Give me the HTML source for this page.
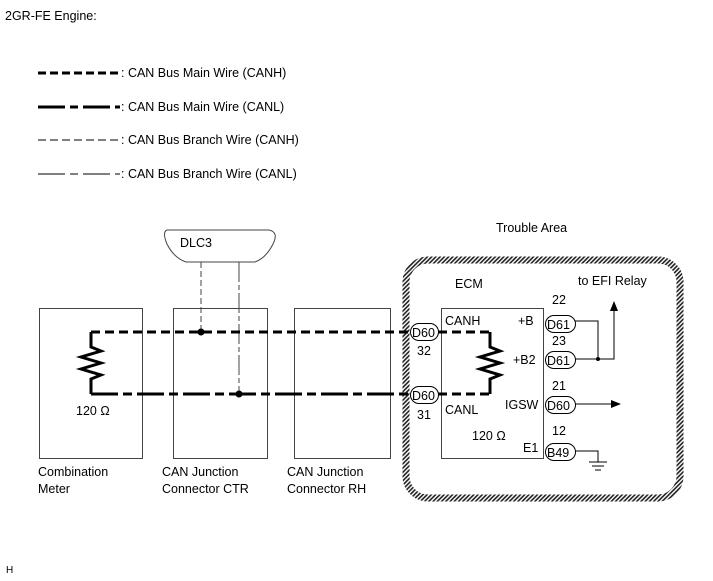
<!DOCTYPE html>
<html><head><style>
body{margin:0;background:#fff}
svg{display:block;font-family:"Liberation Sans",Arial,sans-serif;font-size:12.5px}
</style></head><body>
<svg width="713" height="581" viewBox="0 0 713 581" xmlns="http://www.w3.org/2000/svg">
<defs>
<pattern id="h" width="3" height="3" patternUnits="userSpaceOnUse" patternTransform="rotate(45)">
<rect width="3" height="3" fill="#fff"/><rect width="1.6" height="3" fill="#222"/>
</pattern>
<marker id="ar" markerWidth="10" markerHeight="8" refX="9" refY="4" orient="auto" markerUnits="userSpaceOnUse"><path d="M0,0 L10,4 L0,8z" fill="#000"/></marker>
</defs>
<text x="5" y="20">2GR-FE Engine:</text>
<!-- legend -->
<line x1="38" y1="73" x2="120" y2="73" stroke="#000" stroke-width="3" stroke-dasharray="8,4"/>
<text x="121" y="77">: CAN Bus Main Wire (CANH)</text>
<line x1="38" y1="107" x2="120" y2="107" stroke="#000" stroke-width="3" stroke-dasharray="27,5,8,5"/>
<text x="121" y="111">: CAN Bus Main Wire (CANL)</text>
<line x1="38" y1="140" x2="120" y2="140" stroke="#000" stroke-width="1" stroke-dasharray="8,4"/>
<text x="121" y="144">: CAN Bus Branch Wire (CANH)</text>
<line x1="38" y1="174" x2="120" y2="174" stroke="#000" stroke-width="1" stroke-dasharray="27,5,8,5"/>
<text x="121" y="178">: CAN Bus Branch Wire (CANL)</text>

<text x="496" y="232">Trouble Area</text>
<rect x="406" y="260" width="274" height="238" rx="22" fill="none" stroke="url(#h)" stroke-width="7"/>

<!-- boxes -->
<g fill="none" stroke="#444" stroke-width="1">
<rect x="39.5" y="308.5" width="103" height="150"/>
<rect x="173.5" y="308.5" width="94" height="150"/>
<rect x="294.5" y="308.5" width="96" height="150"/>
<rect x="441.5" y="308.5" width="102" height="150"/>
</g>
<!-- DLC3 -->
<path d="M167,230 L269,230 Q279,232 273,244 Q266,258 255,262 L186,262 Q174,258 167,244 Q162,232 167,230z" fill="#fff" stroke="#444"/>
<text x="180" y="247">DLC3</text>
<line x1="201" y1="262" x2="201" y2="331" stroke="#444" stroke-dasharray="6,3"/>
<line x1="239" y1="262" x2="239" y2="394" stroke="#444" stroke-dasharray="20,3,5,3"/>

<!-- main wires -->
<line x1="91" y1="332" x2="410" y2="332" stroke="#000" stroke-width="3" stroke-dasharray="9,5"/>
<line x1="91" y1="394" x2="410" y2="394" stroke="#000" stroke-width="3" stroke-dasharray="27,5,9,5"/>
<path d="M91,332 V347 L101,351 L81,357 L101,363 L81,369 L101,375 L91,379 V394" fill="none" stroke="#000" stroke-width="3"/>
<circle cx="201" cy="332" r="3.5"/><circle cx="239" cy="394" r="3.5"/>
<text x="76" y="415">120 Ω</text>
<!-- ECM internal -->
<line x1="438" y1="332" x2="490" y2="332" stroke="#000" stroke-width="3" stroke-dasharray="9,5"/>
<line x1="438" y1="394" x2="490" y2="394" stroke="#000" stroke-width="3" stroke-dasharray="9,5"/>
<path d="M490,332 V347 L500,351 L480,357 L500,363 L480,369 L500,375 L490,379 V394" fill="none" stroke="#000" stroke-width="3"/>

<!-- pills -->
<g fill="#fff" stroke="#000" stroke-width="1">
<rect x="410.5" y="323.5" width="28" height="17" rx="8.5"/>
<rect x="410.5" y="386.5" width="28" height="17" rx="8.5"/>
<rect x="545.5" y="315.5" width="30" height="17" rx="8.5"/>
<rect x="545.5" y="351.5" width="30" height="17" rx="8.5"/>
<rect x="545.5" y="396.5" width="30" height="17" rx="8.5"/>
<rect x="545.5" y="443.5" width="30" height="17" rx="8.5"/>
</g>
<g font-size="12.5">
<text x="412" y="337">D60</text><text x="412" y="400">D60</text>
<text x="547" y="329">D61</text><text x="547" y="365">D61</text>
<text x="547" y="410">D60</text><text x="547" y="457">B49</text>
<text x="417" y="355">32</text><text x="417" y="419">31</text>
<text x="552" y="304">22</text><text x="552" y="345">23</text>
<text x="552" y="390">21</text><text x="552" y="435">12</text>
<text x="455" y="288">ECM</text><text x="578" y="285">to EFI Relay</text>
<text x="445" y="325">CANH</text><text x="518" y="325">+B</text>
<text x="513" y="364">+B2</text>
<text x="445" y="414">CANL</text><text x="505" y="409">IGSW</text>
<text x="472" y="440">120 Ω</text><text x="523" y="452">E1</text>
</g>
<g stroke="#000" fill="none" stroke-width="1">
<path d="M575,321 H598 V359"/>
<path d="M575,359 H614 V302" marker-end="url(#ar)"/>
<path d="M575,404 H620" marker-end="url(#ar)"/>
<path d="M575,451 H598 V462"/>
<path d="M589,462 H607 M592,466 H604 M595,470 H601"/>
</g>
<circle cx="598" cy="359" r="2"/>

<g font-size="12.5">
<text x="38" y="476">Combination</text><text x="38" y="493">Meter</text>
<text x="162" y="476">CAN Junction</text><text x="162" y="493">Connector CTR</text>
<text x="287" y="476">CAN Junction</text><text x="287" y="493">Connector RH</text>
</g>
<text x="6" y="573" font-size="10">H</text>
</svg>
</body></html>
